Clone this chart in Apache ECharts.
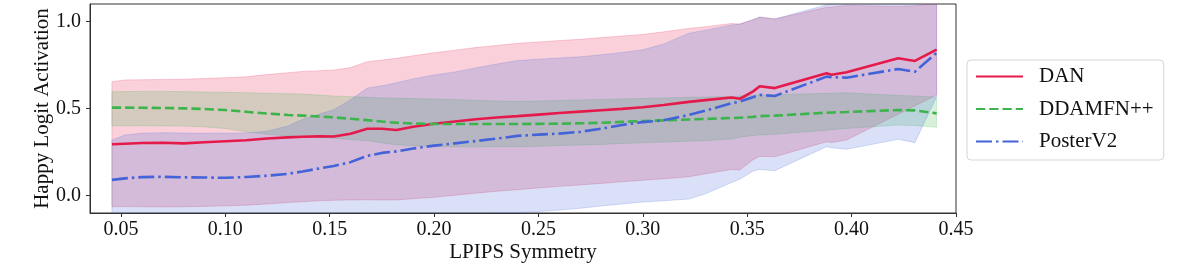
<!DOCTYPE html>
<html>
<head>
<meta charset="utf-8">
<script src="https://cdn.jsdelivr.net/npm/echarts@6/dist/echarts.min.js"></script>
<style>
  html, body { margin: 0; padding: 0; background: #fff; }
  #chart { width: 1196px; height: 267px; }
</style>
</head>
<body>
<div id="chart"></div>
<script>
// LPIPS Symmetry sample positions
const lpips = [0.0457, 0.052, 0.06, 0.07, 0.08, 0.09, 0.10, 0.11, 0.12, 0.13, 0.137, 0.145, 0.152, 0.16, 0.168, 0.175, 0.182, 0.19, 0.20, 0.21, 0.22, 0.23, 0.24, 0.25, 0.26, 0.27, 0.28, 0.29, 0.30, 0.31, 0.322, 0.33, 0.3425, 0.3465, 0.3527, 0.356, 0.3632, 0.388, 0.3904, 0.3976, 0.4223, 0.4303, 0.4407];

const danMean = [0.295, 0.298, 0.302, 0.303, 0.300, 0.306, 0.312, 0.318, 0.328, 0.334, 0.338, 0.340, 0.339, 0.355, 0.384, 0.384, 0.377, 0.395, 0.412, 0.425, 0.438, 0.448, 0.456, 0.465, 0.474, 0.482, 0.490, 0.498, 0.507, 0.520, 0.538, 0.548, 0.563, 0.556, 0.597, 0.628, 0.617, 0.702, 0.694, 0.708, 0.788, 0.773, 0.838];
const danUpper = [0.654, 0.664, 0.665, 0.667, 0.668, 0.672, 0.677, 0.682, 0.695, 0.705, 0.713, 0.717, 0.721, 0.735, 0.769, 0.778, 0.788, 0.803, 0.820, 0.835, 0.850, 0.862, 0.874, 0.882, 0.890, 0.897, 0.907, 0.916, 0.925, 0.940, 0.960, 0.970, 0.988, 0.985, 1.010, 1.025, 1.014, 1.081, 1.083, 1.092, 1.086, 1.090, 1.105];
const danLower = [-0.064, -0.063, -0.064, -0.065, -0.064, -0.062, -0.059, -0.055, -0.048, -0.040, -0.035, -0.030, -0.027, -0.025, -0.024, -0.025, -0.025, -0.018, -0.010, 0.002, 0.014, 0.025, 0.034, 0.044, 0.053, 0.061, 0.070, 0.079, 0.088, 0.097, 0.108, 0.125, 0.150, 0.147, 0.205, 0.225, 0.223, 0.309, 0.305, 0.319, 0.467, 0.515, 0.577];

const ddaMean = [0.505, 0.505, 0.504, 0.503, 0.501, 0.497, 0.491, 0.481, 0.471, 0.463, 0.459, 0.454, 0.449, 0.441, 0.433, 0.425, 0.418, 0.414, 0.411, 0.411, 0.411, 0.411, 0.411, 0.412, 0.413, 0.415, 0.418, 0.423, 0.428, 0.432, 0.437, 0.440, 0.446, 0.447, 0.452, 0.456, 0.459, 0.476, 0.477, 0.480, 0.491, 0.489, 0.472];
const ddaUpper = [0.596, 0.597, 0.598, 0.598, 0.597, 0.595, 0.593, 0.591, 0.588, 0.585, 0.583, 0.577, 0.572, 0.568, 0.564, 0.561, 0.559, 0.557, 0.555, 0.551, 0.547, 0.543, 0.541, 0.543, 0.546, 0.549, 0.552, 0.555, 0.558, 0.561, 0.564, 0.566, 0.569, 0.572, 0.575, 0.577, 0.579, 0.587, 0.588, 0.590, 0.575, 0.572, 0.566];
const ddaLower = [0.401, 0.401, 0.401, 0.400, 0.399, 0.394, 0.385, 0.366, 0.352, 0.342, 0.338, 0.333, 0.329, 0.322, 0.315, 0.302, 0.292, 0.286, 0.281, 0.280, 0.280, 0.281, 0.281, 0.283, 0.287, 0.290, 0.294, 0.299, 0.303, 0.307, 0.312, 0.315, 0.325, 0.335, 0.345, 0.348, 0.352, 0.375, 0.378, 0.385, 0.405, 0.402, 0.392];

const posMean = [0.090, 0.099, 0.106, 0.108, 0.105, 0.104, 0.102, 0.107, 0.114, 0.125, 0.138, 0.156, 0.170, 0.192, 0.228, 0.245, 0.254, 0.270, 0.287, 0.300, 0.313, 0.327, 0.343, 0.350, 0.356, 0.366, 0.384, 0.405, 0.422, 0.432, 0.463, 0.488, 0.530, 0.540, 0.565, 0.578, 0.572, 0.683, 0.680, 0.677, 0.727, 0.711, 0.820];
const posUpper = [0.319, 0.348, 0.358, 0.361, 0.359, 0.358, 0.358, 0.360, 0.370, 0.400, 0.437, 0.468, 0.493, 0.550, 0.617, 0.630, 0.648, 0.670, 0.692, 0.710, 0.733, 0.755, 0.775, 0.783, 0.790, 0.797, 0.808, 0.822, 0.837, 0.870, 0.932, 0.950, 0.979, 0.985, 1.010, 1.025, 1.014, 1.095, 1.098, 1.110, 1.150, 1.140, 1.200];
const posLower = [-0.145, -0.145, -0.145, -0.145, -0.145, -0.145, -0.140, -0.140, -0.135, -0.135, -0.130, -0.130, -0.125, -0.125, -0.120, -0.120, -0.115, -0.115, -0.110, -0.108, -0.104, -0.100, -0.098, -0.092, -0.083, -0.073, -0.060, -0.048, -0.037, -0.030, -0.020, 0.010, 0.075, 0.094, 0.140, 0.150, 0.143, 0.281, 0.275, 0.266, 0.323, 0.304, 0.568];

const xTicks = [0.05, 0.10, 0.15, 0.20, 0.25, 0.30, 0.35, 0.40, 0.45];
const yTicks = [0.0, 0.5, 1.0];

const seriesNames = ['DAN', 'DDAMFN++', 'PosterV2'];
const colors = ['#e6194B', '#3cb44b', '#4363d8'];

const X_MIN = 0.0352, X_MAX = 0.45, Y_MIN = -0.1, Y_MAX = 1.1;
const FONT = 'Liberation Serif';

function hexToRgba(hex, a) {
  const v = parseInt(hex.slice(1), 16);
  return 'rgba(' + ((v >> 16) & 255) + ',' + ((v >> 8) & 255) + ',' + (v & 255) + ',' + a + ')';
}

function bandSeries(name, upper, lower, color) {
  return {
    type: 'custom',
    name: name + ' band',
    silent: true,
    clip: true,
    z: 1,
    data: [[lpips[0], lower[0]]],
    encode: { x: 0, y: 1 },
    renderItem: function (params, api) {
      const clampY = v => Math.max(Y_MIN - 0.02, Math.min(Y_MAX + 0.02, v));
      const pts = [];
      for (let i = 0; i < lpips.length; i++) pts.push(api.coord([lpips[i], clampY(upper[i])]));
      for (let i = lpips.length - 1; i >= 0; i--) pts.push(api.coord([lpips[i], clampY(lower[i])]));
      return {
        type: 'polygon',
        shape: { points: pts },
        style: { fill: hexToRgba(color, 0.2), stroke: hexToRgba(color, 0.2), lineWidth: 1 }
      };
    }
  };
}

function lineSeries(name, values, color, dash) {
  return {
    type: 'line',
    name: name,
    z: 3,
    data: lpips.map((x, i) => [x, values[i]]),
    showSymbol: false,
    symbol: 'none',
    animation: false,
    lineStyle: { color: color, width: 2.6, type: dash, cap: 'butt' },
    itemStyle: { color: color }
  };
}

const chart = echarts.init(document.getElementById('chart'), null, { renderer: 'canvas' });
chart.setOption({
  animation: false,
  backgroundColor: '#ffffff',
  grid: {
    left: 90, right: 240, top: 4, bottom: 54,
    outerBoundsMode: 'none',
    containLabel: false,
    show: true, borderColor: '#333', borderWidth: 1, backgroundColor: 'transparent'
  },
  xAxis: {
    type: 'value',
    min: X_MIN, max: X_MAX,
    name: 'LPIPS Symmetry',
    nameLocation: 'middle',
    nameGap: 29,
    nameMoveOverlap: false,
    nameTextStyle: { fontFamily: FONT, fontSize: 21, color: '#111' },
    axisLine: { show: true, onZero: false, lineStyle: { color: '#333', width: 1 } },
    axisTick: { show: true, length: 4, customValues: xTicks, lineStyle: { color: '#333', width: 1 } },
    axisLabel: {
      customValues: xTicks, margin: 7, fontFamily: FONT, fontSize: 20, color: '#111',
      formatter: v => v.toFixed(2)
    },
    splitLine: { show: false }
  },
  yAxis: {
    type: 'value',
    min: Y_MIN, max: Y_MAX,
    name: 'Happy Logit Activation',
    nameLocation: 'middle',
    nameGap: 37,
    nameMoveOverlap: false,
    nameTextStyle: { fontFamily: FONT, fontSize: 21, color: '#111' },
    axisLine: { show: true, onZero: false, lineStyle: { color: '#333', width: 1 } },
    axisTick: { show: true, length: 4, customValues: yTicks, lineStyle: { color: '#333', width: 1 } },
    axisLabel: {
      customValues: yTicks, margin: 9, fontFamily: FONT, fontSize: 20, color: '#111',
      formatter: v => v.toFixed(1)
    },
    splitLine: { show: false }
  },
  legend: {
    data: seriesNames,
    orient: 'vertical',
    left: 967, top: 60,
    padding: [6, 10, 8, 8],
    itemGap: 11.5,
    itemWidth: 47,
    itemHeight: 20,
    itemStyle: { opacity: 0, borderWidth: 0 },
    borderColor: '#d6d6d6',
    borderWidth: 1,
    borderRadius: 4,
    backgroundColor: 'rgba(255,255,255,0.8)',
    textStyle: { fontFamily: FONT, fontSize: 21, color: '#111', lineHeight: 20, padding: [0, 0, 0, 11] }
  },
  series: [
    bandSeries('DAN', danUpper, danLower, colors[0]),
    bandSeries('DDAMFN++', ddaUpper, ddaLower, colors[1]),
    bandSeries('PosterV2', posUpper, posLower, colors[2]),
    lineSeries('DAN', danMean, colors[0], 'solid'),
    lineSeries('DDAMFN++', ddaMean, colors[1], [9.25, 4]),
    lineSeries('PosterV2', posMean, colors[2], [16, 4, 2.5, 4])
  ]
});
</script>
</body>
</html>
